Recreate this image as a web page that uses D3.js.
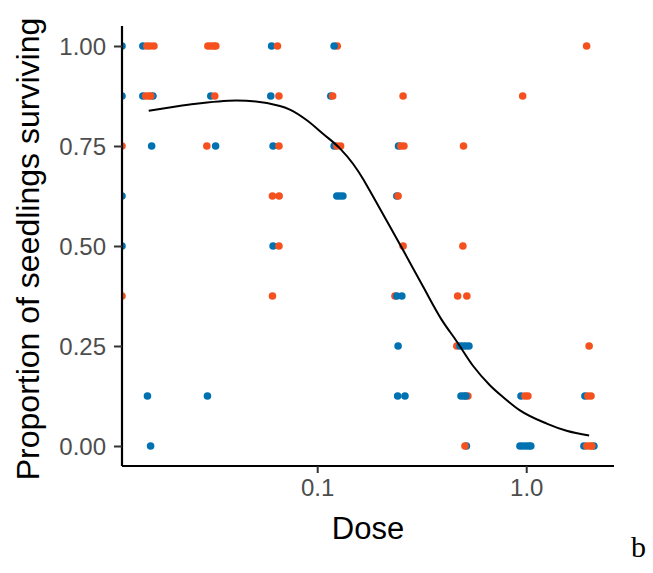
<!DOCTYPE html>
<html>
<head>
<meta charset="utf-8">
<script src="https://cdn.jsdelivr.net/npm/d3@7"></script>
<style>
  html, body { margin: 0; padding: 0; background: #fff; }
  svg { display: block; }
</style>
</head>
<body>
<svg id="chart" width="653" height="573"></svg>
<script>
// Dose levels tested (dose 0 = untreated control, drawn at the left panel edge)
const doseLevels = [0.015625, 0.03125, 0.0625, 0.125, 0.25, 0.5, 1, 2];
const xTickValues = [0.1, 1];
const xTickLabels = ["0.1", "1.0"];
const yTickValues = [0, 0.25, 0.5, 0.75, 1];
const yTickLabels = ["0.00", "0.25", "0.50", "0.75", "1.00"];

// Observations: [dose, proportion surviving, horizontal jitter in log10 units]
const blueObs = [
  [0, 1.0, 0], [0, 0.875, 0], [0, 0.625, 0], [0, 0.5, 0],
  [0.015625, 1.0, -0.028], [0.015625, 0.875, -0.028], [0.015625, 0.875, 0.020],
  [0.015625, 0.75, 0.014], [0.015625, 0.125, -0.006], [0.015625, 0, 0.009],
  [0.03125, 0.875, -0.004], [0.03125, 0.75, 0.019], [0.03125, 0.125, -0.020],
  [0.0625, 1.0, -0.014], [0.0625, 0.875, -0.018], [0.0625, 0.75, -0.007], [0.0625, 0.5, -0.007],
  [0.125, 0.875, -0.032], [0.125, 0.75, -0.016],
  [0.125, 0.625, -0.003], [0.125, 0.625, 0.011], [0.125, 0.625, 0.026],
  [0.25, 0.75, -0.009], [0.25, 0.625, -0.017],
  [0.25, 0.25, -0.011], [0.25, 0.125, -0.013], [0.25, 0.125, 0.022],
  [0.5, 0, 0.015],
  [1, 0.125, -0.025],
  [1, 0, -0.030], [1, 0, -0.016], [1, 0, -0.001], [1, 0, 0.013], [1, 0, 0.022],
  [2, 0.125, -0.020], [2, 0, -0.025], [2, 0, 0.023]
];

const orangeObs = [
  [0, 0.75, 0], [0, 0.375, 0],
  [0.015625, 1.0, -0.009], [0.015625, 1.0, 0.006], [0.015625, 1.0, 0.025],
  [0.015625, 0.875, -0.014], [0.015625, 0.875, 0.001], [0.015625, 0.875, 0.010],
  [0.03125, 1.0, -0.018], [0.03125, 1.0, -0.004], [0.03125, 1.0, 0.011], [0.03125, 1.0, 0.020],
  [0.03125, 0.875, 0.015], [0.03125, 0.75, -0.023],
  [0.0625, 1.0, 0.014], [0.0625, 0.875, 0.021], [0.0625, 0.75, 0.021],
  [0.0625, 0.625, -0.010], [0.0625, 0.625, 0.022], [0.0625, 0.5, 0.021], [0.0625, 0.375, -0.010],
  [0.125, 1.0, -0.001], [0.125, 0.875, -0.023], [0.125, 0.75, -0.003], [0.125, 0.75, 0.015],
  [0.25, 0.875, 0.013], [0.25, 0.75, 0.002], [0.25, 0.75, 0.017], [0.25, 0.625, -0.011],
  [0.25, 0.5, 0.013], [0.25, 0.375, -0.026],
  [0.5, 0.75, 0.001], [0.5, 0.5, -0.002], [0.5, 0.375, -0.027], [0.5, 0.375, 0.017],
  [0.5, 0.25, -0.031], [0.5, 0.125, 0.022], [0.5, 0, 0.008],
  [1, 0.875, -0.017], [1, 0.125, -0.006], [1, 0.125, 0.008],
  [2, 1.0, -0.012], [2, 0.25, 0], [2, 0.125, -0.006], [2, 0.125, 0.009],
  [2, 0, -0.011], [2, 0, 0.004], [2, 0, 0.013]
];

// Points drawn over the blue series where the two overlap, in this order
const blueOnTop = [
  [0.125, 1.0, -0.016],
  [0.25, 0.375, -0.017], [0.25, 0.375, 0.007],
  [0.5, 0.25, -0.016], [0.5, 0.25, -0.002], [0.5, 0.25, 0.012], [0.5, 0.25, 0.027],
  [0.5, 0.125, -0.011], [0.5, 0.125, 0.003], [0.5, 0.125, 0.012]
];

// Smoothed fit of survival against dose
const fitDose = [0.015625, 0.0246, 0.0411, 0.0663, 0.0740, 0.0889, 0.1069, 0.1284, 0.1486,
  0.1660, 0.1786, 0.2228, 0.2630, 0.3214, 0.3936, 0.4645, 0.5574, 0.6699, 0.7762,
  0.9333, 1.2529, 1.5601, 2];
const fitProp = [0.838, 0.854, 0.864, 0.850, 0.841, 0.815, 0.780, 0.744, 0.705,
  0.667, 0.638, 0.549, 0.481, 0.398, 0.316, 0.262, 0.200, 0.152, 0.122,
  0.089, 0.056, 0.038, 0.026];

const colBlue = "#0072B2";
const colOrange = "#F4511E";

const svg = d3.select("#chart");
const margin = { left: 122, top: 26, right: 39, bottom: 107 };
const W = 653 - margin.left - margin.right;
const H = 573 - margin.top - margin.bottom;

const x = d3.scaleLog()
  .domain([Math.pow(10, -1.934), Math.pow(10, 0.42)])
  .range([0, W]);
const y = d3.scaleLinear()
  .domain([-0.05, 1.05])
  .range([H, 0]);

const g = svg.append("g").attr("transform", `translate(${margin.left},${margin.top})`);

svg.append("defs").append("clipPath").attr("id", "panel")
  .append("rect").attr("x", 0).attr("y", 0).attr("width", W).attr("height", H);

const panel = g.append("g").attr("clip-path", "url(#panel)");

function px(d) {
  if (d[0] === 0) return 0; // log(0) -> left panel edge
  return x(Math.pow(10, Math.log10(d[0]) + d[2]));
}

function drawPoints(data, col) {
  panel.append("g").selectAll("circle").data(data).join("circle")
    .attr("cx", px)
    .attr("cy", d => y(d[1]))
    .attr("r", 3.8)
    .attr("fill", col);
}

drawPoints(blueObs, colBlue);
drawPoints(orangeObs, colOrange);
drawPoints(blueOnTop, colBlue);

const fit = fitDose.map((d, i) => [d, fitProp[i]]);
panel.append("path")
  .datum(fit)
  .attr("fill", "none")
  .attr("stroke", "#000")
  .attr("stroke-width", 2)
  .attr("d", d3.line().x(d => x(d[0])).y(d => y(d[1])).curve(d3.curveMonotoneX));

// Axes
const xAxis = g.append("g").attr("transform", `translate(0,${H})`)
  .call(d3.axisBottom(x).tickValues(xTickValues).tickFormat((d, i) => xTickLabels[i])
    .tickSize(7).tickPadding(6));
const yAxis = g.append("g")
  .call(d3.axisLeft(y).tickValues(yTickValues).tickFormat((d, i) => yTickLabels[i])
    .tickSize(8).tickPadding(8));

[xAxis, yAxis].forEach(a => {
  a.select(".domain").attr("stroke", "#000").attr("stroke-width", 2.2);
  a.selectAll(".tick line").attr("stroke", "#333").attr("stroke-width", 2);
  a.selectAll(".tick text")
    .attr("fill", "#4D4D4D")
    .style("font-family", "'Liberation Sans', Arial, sans-serif")
    .style("font-size", "24px");
});
xAxis.select(".domain").attr("d", `M0,0H${W}`);
yAxis.select(".domain").attr("d", `M0,0V${H}`);
yAxis.selectAll(".tick text").attr("dy", "0.36em");

// Axis titles
svg.append("text")
  .attr("x", margin.left + W / 2)
  .attr("y", 539)
  .attr("text-anchor", "middle")
  .style("font-family", "'Liberation Sans', Arial, sans-serif")
  .style("font-size", "31px")
  .attr("fill", "#000")
  .text("Dose");

svg.append("text")
  .attr("transform", `translate(39,249) rotate(-90)`)
  .attr("text-anchor", "middle")
  .style("font-family", "'Liberation Sans', Arial, sans-serif")
  .style("font-size", "32px")
  .attr("fill", "#000")
  .text("Proportion of seedlings surviving");

// Panel tag
svg.append("text")
  .attr("x", 631)
  .attr("y", 557)
  .style("font-family", "'Liberation Serif', 'Times New Roman', serif")
  .style("font-size", "30px")
  .attr("fill", "#000")
  .text("b");
</script>
</body>
</html>
